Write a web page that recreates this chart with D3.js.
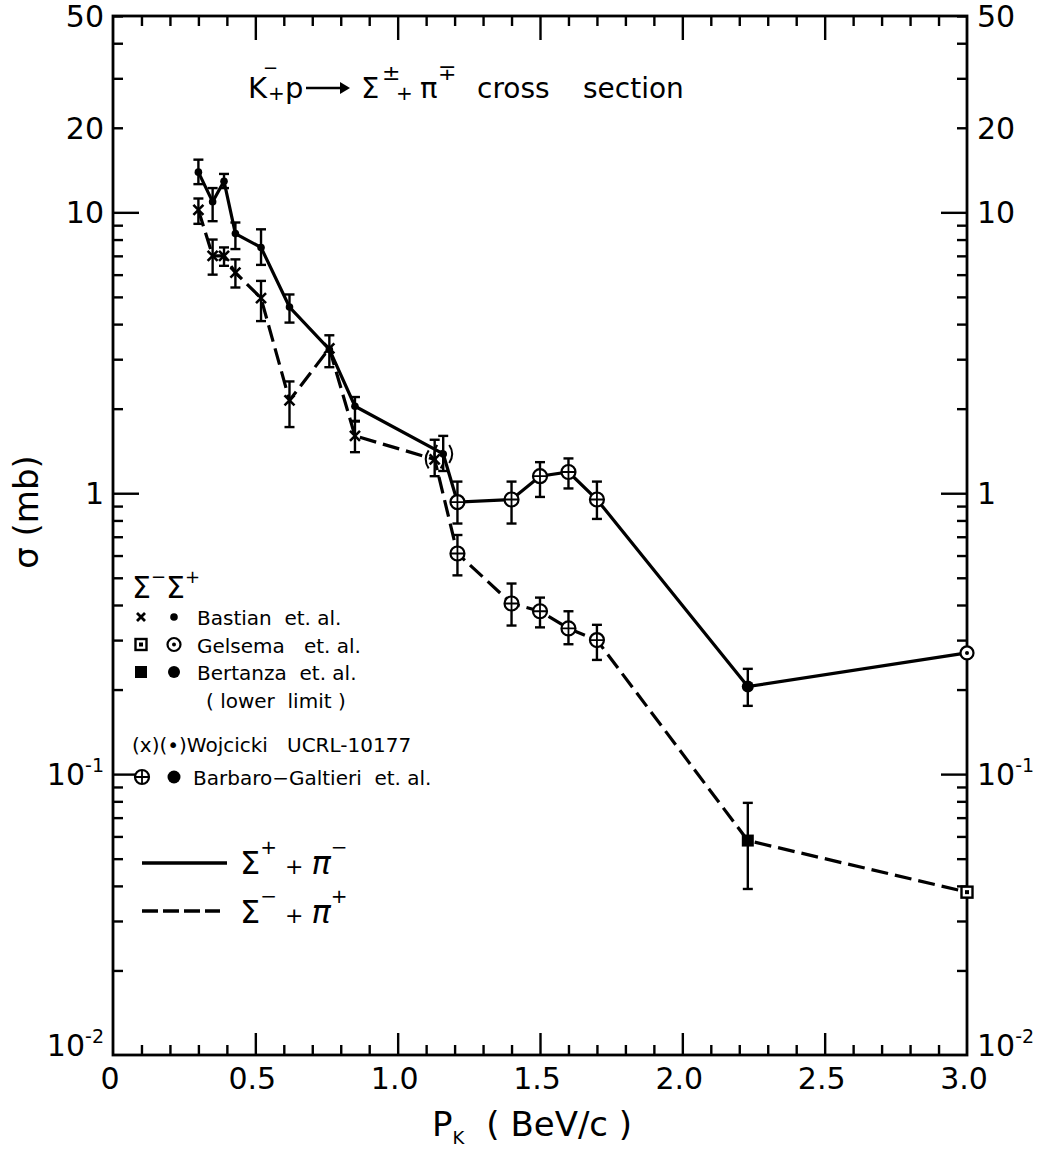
<!DOCTYPE html>
<html>
<head>
<meta charset="utf-8">
<script src="https://cdn.jsdelivr.net/npm/d3@7"></script>
<style>
  body { margin: 0; background: #fff; }
  svg { display: block; font-family: "DejaVu Sans", sans-serif; }
</style>
</head>
<body>
<svg width="1040" height="1155"></svg>
<script>
// Sigma+ + pi-  (solid line)
const momentumPlus = [0.30, 0.35, 0.39, 0.43, 0.52, 0.62, 0.76, 0.85, 1.16, 1.21, 1.40, 1.50, 1.60, 1.70, 2.23, 3.00];
const sigmaPlus    = [13.9, 10.9, 12.9, 8.4, 7.5, 4.6, 3.25, 2.04, 1.38, 0.93, 0.95, 1.15, 1.19, 0.95, 0.205, 0.27];
const sigmaPlusHi  = [15.4, 12.2, 13.7, 9.2, 8.7, 5.1, null, 2.2, 1.6, 1.1, 1.1, 1.29, 1.33, 1.1, 0.237, null];
const sigmaPlusLo  = [12.6, 9.3, 12.2, 7.4, 6.5, 4.05, null, 1.8, 1.2, 0.78, 0.78, 0.97, 1.04, 0.81, 0.175, null];
const sourcePlus   = ["bastian", "bastian", "bastian", "bastian", "bastian", "bastian", "bastian", "bastian",
                      "wojcicki", "barbaro", "barbaro", "barbaro", "barbaro", "barbaro", "bertanza", "gelsema"];

// Sigma- + pi+  (dashed line)
const momentumMinus = [0.30, 0.35, 0.39, 0.43, 0.52, 0.62, 0.76, 0.85, 1.13, 1.21, 1.40, 1.50, 1.60, 1.70, 2.23, 3.00];
const sigmaMinus    = [10.2, 7.0, 7.0, 6.1, 4.95, 2.14, 3.28, 1.60, 1.32, 0.61, 0.405, 0.38, 0.33, 0.30, 0.058, 0.038];
const sigmaMinusHi  = [11.2, 8.0, 7.5, 6.8, 5.7, 2.5, 3.65, 1.81, 1.55, 0.71, 0.477, 0.425, 0.38, 0.34, 0.079, null];
const sigmaMinusLo  = [9.1, 6.0, 6.45, 5.4, 4.1, 1.72, 2.81, 1.40, 1.15, 0.51, 0.338, 0.333, 0.29, 0.255, 0.039, null];
const sourceMinus   = ["bastian", "bastian", "bastian", "bastian", "bastian", "bastian", "bastian", "bastian",
                       "wojcicki", "barbaro", "barbaro", "barbaro", "barbaro", "barbaro", "bertanza", "gelsema"];

// tick labels
const yLabels = [{ v: 50, t: "50" }, { v: 20, t: "20" }, { v: 10, t: "10" }, { v: 1, t: "1" },
                 { v: 0.1, t: "10", s: "-1" }, { v: 0.01, t: "10", s: "-2" }];
const xLabels = ["0", "0.5", "1.0", "1.5", "2.0", "2.5", "3.0"];
const xMajor = [0, 0.5, 1.0, 1.5, 2.0, 2.5, 3.0];

// marker shapes per source: [sigma-, sigma+]
const markerOf = {
  bastian: ["cross", "dot"],
  gelsema: ["squareDot", "circleDot"],
  bertanza: ["squareFill", "disk"],
  wojcicki: ["parenCross", "parenDot"],
  barbaro: ["circlePlus", "circlePlus"]
};

const legendRows = [
  { src: "bastian", label: "Bastian  et. al." },
  { src: "gelsema", label: "Gelsema   et. al." },
  { src: "bertanza", label: "Bertanza  et. al." }
];

const svg = d3.select("svg");
const plotL = 113, plotR = 967, plotT = 16, plotB = 1055;

const x = d3.scaleLinear().domain([0, 3]).range([plotL, plotR]);
const y = d3.scaleLog().domain([0.01, 50]).range([plotB, plotT]);

const yDecades = [0.01, 0.1, 1, 10];
const yMinor = y.ticks().filter(function (d) {
  return yDecades.indexOf(d) === -1 && d <= 50;
});
const xMinor = d3.range(0, 31).filter(function (d) { return d % 5 !== 0; })
  .map(function (d) { return d / 10; });

// ---- axes (ticks pointing inward) ----
function tickAxis(axis, tx, ty, values, size) {
  const g = svg.append("g")
    .attr("transform", "translate(" + tx + "," + ty + ")")
    .call(axis.tickValues(values).tickSize(-size).tickFormat("").tickSizeOuter(0));
  g.select(".domain").remove();
  g.selectAll("line").attr("stroke", "#000").attr("stroke-width", 2.4);
}
const yMajorTicks = yDecades.filter(function (d) { return d > 0.01; });
tickAxis(d3.axisLeft(y), plotL, 0, yMinor, 10);
tickAxis(d3.axisLeft(y), plotL, 0, yMajorTicks, 26);
tickAxis(d3.axisRight(y), plotR, 0, yMinor, 10);
tickAxis(d3.axisRight(y), plotR, 0, yMajorTicks, 26);
tickAxis(d3.axisTop(x), 0, plotT, xMinor, 10);
tickAxis(d3.axisTop(x), 0, plotT, xMajor.slice(1, -1), 24);
tickAxis(d3.axisBottom(x), 0, plotB, xMinor, 10);
tickAxis(d3.axisBottom(x), 0, plotB, xMajor.slice(1, -1), 22);

svg.append("rect")
  .attr("x", plotL).attr("y", plotT)
  .attr("width", plotR - plotL).attr("height", plotB - plotT)
  .attr("fill", "none").attr("stroke", "#000").attr("stroke-width", 2.8);

// tick labels
function yLabel(side) {
  const t = svg.selectAll(".ylab-" + side)
    .data(yLabels)
    .enter()
    .append("text")
    .attr("class", "ylab-" + side)
    .attr("x", side === "l" ? plotL - 9 : plotR + 10)
    .attr("y", function (d) { return y(d.v) + 11 + (d.v === 0.01 ? -10 : 0); })
    .attr("text-anchor", side === "l" ? "end" : "start")
    .attr("font-size", 30);
  t.append("tspan").text(function (d) { return d.t; });
  t.filter(function (d) { return d.s; })
    .append("tspan")
    .attr("font-size", 19)
    .attr("dy", -13)
    .text(function (d) { return d.s; });
}
yLabel("l");
yLabel("r");

svg.selectAll(".xlab")
  .data(xLabels)
  .enter()
  .append("text")
  .attr("class", "xlab")
  .attr("x", function (d, i) { return x(xMajor[i]) - 3; })
  .attr("y", plotB + 34)
  .attr("text-anchor", "middle")
  .attr("font-size", 30)
  .text(function (d) { return d; });

// axis titles
const xt = svg.append("text").attr("x", 432).attr("y", 1136).attr("font-size", 34);
xt.append("tspan").text("P");
xt.append("tspan").attr("font-size", 18).attr("dy", 8).text("K");
xt.append("tspan").attr("dy", -8).attr("dx", 22).text("( BeV/c )");

svg.append("text")
  .attr("transform", "translate(38,512) rotate(-90)")
  .attr("text-anchor", "middle")
  .attr("font-size", 34)
  .text("σ (mb)");

// title
const title = svg.append("g");
function piece(px, py, txt, size) {
  title.append("text").attr("x", px).attr("y", py).attr("font-size", size || 29).text(txt);
}
piece(248, 98, "K");
piece(263, 74, "−", 18);
piece(268, 100, "+", 20);
piece(285, 98, "p");
title.append("line").attr("x1", 306).attr("x2", 343).attr("y1", 88).attr("y2", 88)
  .attr("stroke", "#000").attr("stroke-width", 2.5);
title.append("path").attr("d", "M340,82 L350,88 L340,94 Z").attr("fill", "#000");
piece(361, 98, "Σ");
piece(382, 80, "±", 22);
piece(396, 100, "+", 20);
piece(420, 98, "π");
piece(438, 80, "∓", 22);
piece(477, 98, "cross", 28);
piece(583, 98, "section", 28);

// ---- markers ----
function drawMarker(g, type, cx, cy) {
  const m = g.append("g").attr("transform", "translate(" + cx + "," + cy + ")");
  if (type === "dot") {
    m.append("circle").attr("r", 3.8).attr("fill", "#000");
  } else if (type === "cross" || type === "parenCross") {
    m.append("path").attr("d", "M-5,-5L5,5M-5,5L5,-5")
      .attr("stroke", "#000").attr("stroke-width", 2.6);
  } else if (type === "smallCross") {
    m.append("path").attr("d", "M-4,-4L4,4M-4,4L4,-4")
      .attr("stroke", "#000").attr("stroke-width", 2.8);
  } else if (type === "circlePlus") {
    m.append("circle").attr("r", 7).attr("fill", "#fff").attr("stroke", "#000").attr("stroke-width", 2.2);
    m.append("path").attr("d", "M-7,0H7M0,-7V7").attr("stroke", "#000").attr("stroke-width", 1.8);
  } else if (type === "disk") {
    m.append("circle").attr("r", 6).attr("fill", "#000");
  } else if (type === "squareFill") {
    m.append("rect").attr("x", -6).attr("y", -6).attr("width", 12).attr("height", 12).attr("fill", "#000");
  } else if (type === "circleDot") {
    m.append("circle").attr("r", 6.5).attr("fill", "#fff").attr("stroke", "#000").attr("stroke-width", 2.2);
    m.append("circle").attr("r", 2).attr("fill", "#000");
  } else if (type === "squareDot") {
    m.append("rect").attr("x", -5.5).attr("y", -5.5).attr("width", 11).attr("height", 11)
      .attr("fill", "#fff").attr("stroke", "#000").attr("stroke-width", 2.4);
    m.append("rect").attr("x", -2).attr("y", -2).attr("width", 4).attr("height", 4).attr("fill", "#000");
  } else if (type === "parenDot") {
    m.append("circle").attr("r", 3.8).attr("fill", "#000");
  }
  if (type === "parenCross" || type === "parenDot") {
    m.append("path").attr("d", "M-6,-9Q-12,0 -6,9M6,-9Q12,0 6,9")
      .attr("fill", "none").attr("stroke", "#000").attr("stroke-width", 2);
  }
}

function series(xs, ys, his, los, srcs, idx, dash) {
  const pts = xs.map(function (d, i) {
    return { x: d, y: ys[i], hi: his[i], lo: los[i], src: srcs[i] };
  });
  const line = d3.line()
    .x(function (d) { return x(d.x); })
    .y(function (d) { return y(d.y); });
  svg.append("path")
    .datum(pts)
    .attr("d", line)
    .attr("fill", "none")
    .attr("stroke", "#000")
    .attr("stroke-width", 3.2)
    .attr("stroke-dasharray", dash ? "17,7" : null);

  const eb = svg.append("g").attr("stroke", "#000").attr("stroke-width", 2.4);
  pts.filter(function (d) { return d.hi != null; }).forEach(function (d) {
    const px = x(d.x);
    eb.append("line").attr("x1", px).attr("x2", px).attr("y1", y(d.hi)).attr("y2", y(d.lo));
    eb.append("line").attr("x1", px - 5).attr("x2", px + 5).attr("y1", y(d.hi)).attr("y2", y(d.hi));
    eb.append("line").attr("x1", px - 5).attr("x2", px + 5).attr("y1", y(d.lo)).attr("y2", y(d.lo));
  });
  const mg = svg.append("g");
  pts.forEach(function (d) {
    drawMarker(mg, markerOf[d.src][idx], x(d.x), y(d.y));
  });
}
series(momentumMinus, sigmaMinus, sigmaMinusHi, sigmaMinusLo, sourceMinus, 0, true);
series(momentumPlus, sigmaPlus, sigmaPlusHi, sigmaPlusLo, sourcePlus, 1, false);

// ---- legend ----
const leg = svg.append("g").attr("font-size", 20);
const sh = leg.append("text").attr("x", 132).attr("y", 598).attr("font-size", 30);
sh.append("tspan").text("Σ");
sh.append("tspan").attr("font-size", 18).attr("dy", -15).text("−");
sh.append("tspan").attr("dy", 15).text("Σ");
sh.append("tspan").attr("font-size", 18).attr("dy", -15).text("+");

legendRows.forEach(function (r, i) {
  const ry = 617 + i * 27.5;
  const m0 = markerOf[r.src][0] === "cross" ? "smallCross" : markerOf[r.src][0];
  drawMarker(leg, m0, 141, ry);
  drawMarker(leg, markerOf[r.src][1], 174, ry);
  leg.append("text").attr("x", 197).attr("y", ry + 8).attr("xml:space", "preserve").text(r.label);
});
leg.append("text").attr("x", 206).attr("y", 708).attr("xml:space", "preserve").text("( lower  limit )");
leg.append("text").attr("x", 132).attr("y", 752).attr("xml:space", "preserve").text("(x)(•)Wojcicki   UCRL-10177");
drawMarker(leg, "circlePlus", 142, 777);
leg.append("circle").attr("cx", 174).attr("cy", 777).attr("r", 6.5).attr("fill", "#000");
leg.append("text").attr("x", 193).attr("y", 785).attr("xml:space", "preserve").text("Barbaro−Galtieri  et. al.");

// line key
leg.append("line").attr("x1", 142).attr("x2", 227).attr("y1", 863).attr("y2", 863)
  .attr("stroke", "#000").attr("stroke-width", 3.5);
leg.append("line").attr("x1", 142).attr("x2", 220).attr("y1", 911).attr("y2", 911)
  .attr("stroke", "#000").attr("stroke-width", 3.5).attr("stroke-dasharray", "16,5");
function key(ky, s1, s2) {
  const t = leg.append("text").attr("x", 240).attr("y", ky).attr("font-size", 32);
  t.append("tspan").text("Σ");
  t.append("tspan").attr("font-size", 20).attr("dy", -20).text(s1);
  t.append("tspan").attr("font-size", 22).attr("dy", 20).attr("dx", 8).text("+");
  t.append("tspan").attr("dx", 8).attr("font-style", "italic").text("π");
  t.append("tspan").attr("font-size", 20).attr("dy", -20).text(s2);
}
key(874, "+", "−");
key(923, "−", "+");
</script>
</body>
</html>
